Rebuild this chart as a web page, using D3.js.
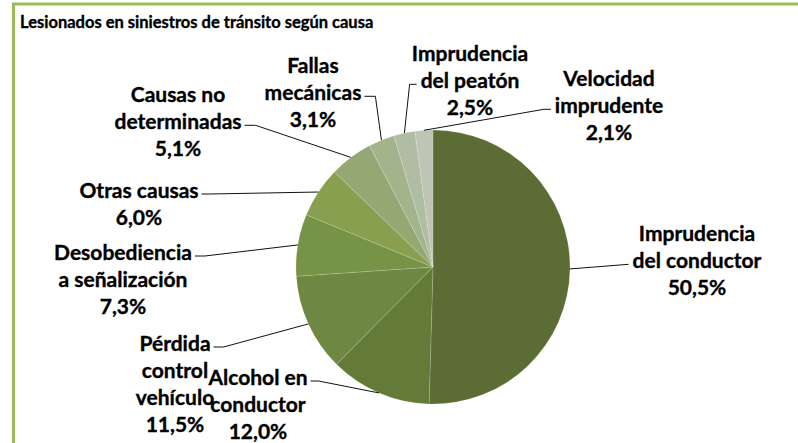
<!DOCTYPE html>
<html>
<head>
<meta charset="utf-8">
<script src="https://cdn.jsdelivr.net/npm/d3@7/dist/d3.min.js"></script>
<style>
  body { margin: 0; background: #fff; }
  text { font-family: Lato, "Open Sans", sans-serif; font-weight: bold; fill: #000;
         stroke: #000; stroke-width: 0.35px; }
</style>
</head>
<body>
<svg></svg>
<script>

// Data
var title = "Lesionados en siniestros de tránsito según causa";
var categories = [
    ["Imprudencia", "del conductor"],
    ["Alcohol en", "conductor"],
    ["Pérdida", "control", "vehículo"],
    ["Desobediencia", "a señalización"],
    ["Otras causas"],
    ["Causas no", "determinadas"],
    ["Fallas", "mecánicas"],
    ["Imprudencia", "del peatón"],
    ["Velocidad", "imprudente"]
];
var values = [50.5, 12.0, 11.5, 7.3, 6.0, 5.1, 3.1, 2.5, 2.1];
var colors = ["#5b6c34", "#637a39", "#6e8742", "#779345", "#879f4e",
              "#94a874", "#a3b48d", "#b1bda2", "#bfc5b5"];

// Layout of the labels: centre x, centre y of first line, which line the leader touches, side, stub length
var labelPos = [
    [697, 233, 1, "left", 0],
    [258, 377, 0, "right", 8],
    [175, 343, 0, "right", 10],
    [123, 252, 0, "right", 10],
    [139, 190, 0, "right", 8],
    [178, 94, 1, "right", 11],
    [313, 65, 1, "right", 11],
    [470, 53, 1, "left", 7],
    [609, 78, 1, "left", 7]
];

var width = 798;
var height = 443;
var cx = 433, cy = 267, radius = 137;
var fontSize = 21;
var lineStep = 27.3;

var svg = d3.select("svg")
    .attr("width", width)
    .attr("height", height);

// chart border (right and bottom run off the picture)
svg.append("rect")
    .attr("x", 13.5).attr("y", 4)
    .attr("width", 820).attr("height", 460)
    .attr("fill", "none")
    .attr("stroke", "#9bbb59")
    .attr("stroke-width", 3);

svg.append("text")
    .attr("x", 20).attr("y", 28)
    .style("font-size", "16.5px")
    .text(title);

var g = svg.append("g")
    .attr("transform", "translate(" + cx + "," + cy + ")");

var pie = d3.pie().sort(null).value(function (d) { return d; });
var arcs = pie(values);

var arc = d3.arc().innerRadius(0).outerRadius(radius);
var edgeArc = d3.arc().innerRadius(radius).outerRadius(radius);

g.selectAll("path.slice")
    .data(arcs)
    .enter().append("path")
    .attr("class", "slice")
    .attr("d", arc)
    .attr("fill", function (d, i) { return colors[i]; })
    .attr("stroke", "rgba(255,255,255,0.25)")
    .attr("stroke-width", 0.6);

var fmt = d3.format(".1f");

arcs.forEach(function (d, i) {
    var lines = categories[i].concat([fmt(values[i]).replace(".", ",") + "%"]);
    var p = labelPos[i];
    var label = svg.append("g");
    var boxes = [];
    lines.forEach(function (t, k) {
        var cyLine = p[1] + k * lineStep;
        var txt = label.append("text")
            .attr("x", p[0])
            .attr("y", cyLine + fontSize * 0.36)
            .attr("text-anchor", "middle")
            .style("font-size", fontSize + "px")
            .text(t);
        boxes.push(txt.node().getBBox());
    });

    // leader line from the slice edge to the label
    var b = boxes[p[2]];
    var ly = p[1] + p[2] * lineStep + 4;
    var ex = p[3] === "right" ? b.x + b.width + 3 : b.x - 4;
    var sx = p[3] === "right" ? ex + p[4] : ex - p[4];
    var c = edgeArc.centroid(d);
    var pts = [[ex, ly], [sx, ly], [cx + c[0], cy + c[1]]];
    svg.append("path")
        .attr("d", d3.line()(pts))
        .attr("fill", "none")
        .attr("stroke", "#111")
        .attr("stroke-width", 1);
});

</script>
</body>
</html>
